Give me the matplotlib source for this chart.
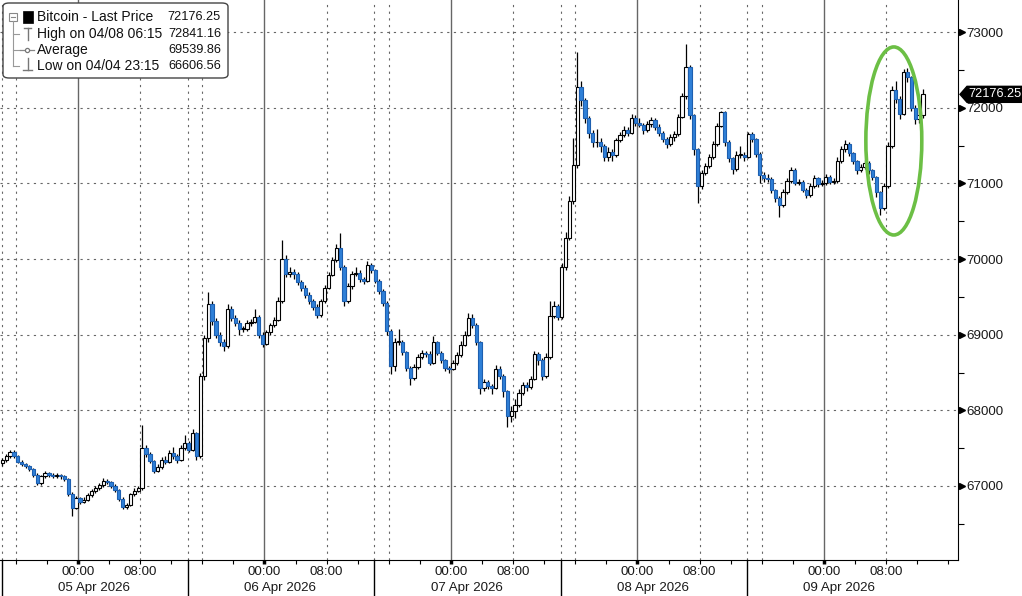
import matplotlib
matplotlib.use("Agg")
import matplotlib.pyplot as plt
from matplotlib.patches import Ellipse, FancyBboxPatch, Polygon, Rectangle
from matplotlib.lines import Line2D
import numpy as np
import pandas as pd

# 30-minute candles, Bitcoin, 04 Apr 14:00 -> 09 Apr 12:30
start_time = "2026-04-04 14:00"
first_open = 67300
closes = [
    67340, 67390, 67450, 67390, 67320, 67290, 67260, 67220, 67150, 67040,
    67130, 67170, 67150, 67130, 67140, 67130, 67090, 66900, 66710, 66840,
    66790, 66820, 66880, 66930, 66970, 67010, 67060, 67050, 67000, 66950,
    66830, 66720, 66750, 66890, 66940, 66970, 67500, 67420, 67330, 67200,
    67250, 67350, 67320, 67440, 67390, 67350, 67500, 67570, 67480, 67700,
    67390, 68450, 68950, 69400, 69180, 69000, 68900, 68850, 69340, 69220,
    69160, 69070, 69080, 69150, 69170, 69230, 69000, 68880, 69030, 69130,
    69200, 69450, 70000, 69800, 69830, 69800, 69690, 69620, 69530, 69440,
    69370, 69260, 69440, 69620, 69790, 69990, 70150, 69900, 69440, 69640,
    69800, 69820, 69730, 69710, 69920, 69850, 69710, 69580, 69420, 69050,
    68580, 68900, 68900, 68770, 68560, 68430, 68570, 68700, 68760, 68750,
    68630, 68900, 68760, 68660, 68560, 68550, 68620, 68730, 68870, 69000,
    69220, 69130, 68900, 68300, 68370, 68320, 68300, 68550, 68460, 68250,
    67930, 67990, 68070, 68230, 68330, 68310, 68420, 68740, 68660, 68450,
    68700, 69250, 69380, 69240, 69890, 70280, 70760, 71240, 72270, 72100,
    71860, 71670, 71540, 71550, 71500, 71350, 71420, 71370, 71570, 71640,
    71710, 71670, 71870, 71800, 71770, 71700, 71780, 71840, 71750, 71670,
    71580, 71520, 71610, 71650, 71880, 72150, 72540, 71900, 71450, 70970,
    71140, 71230, 71350, 71520, 71760, 71940, 71550, 71330, 71190, 71380,
    71380, 71350, 71650, 71580, 71390, 71110, 71070, 71060, 70910, 70800,
    70720, 70880, 71030, 71180, 71010, 71020, 70910, 70840, 70960, 71070,
    70990, 71010, 71090, 71020, 71030, 71300, 71450, 71520, 71400, 71290,
    71180, 71220, 71270, 71170, 71080, 70880, 70680, 70970, 71500, 72240,
    72120, 71920, 72470, 72400, 72000, 71850, 71900, 72176.25]
highs = [
    67370, 67420, 67480, 67470, 67410, 67340, 67310, 67280, 67240, 67170,
    67150, 67200, 67190, 67170, 67170, 67160, 67150, 67100, 66920, 66870,
    66860, 66850, 66910, 66960, 67000, 67040, 67100, 67090, 67070, 67020,
    66960, 66850, 66780, 66910, 66970, 67000, 67810, 67540, 67450, 67350,
    67290, 67380, 67390, 67480, 67510, 67420, 67540, 67680, 67600, 67750,
    67720, 68500, 69000, 69560, 69450, 69220, 69040, 68940, 69400, 69380,
    69260, 69190, 69120, 69190, 69210, 69340, 69260, 69030, 69060, 69160,
    69240, 69500, 70250, 70050, 69900, 69870, 69830, 69720, 69650, 69560,
    69470, 69400, 69470, 69660, 69830, 70030, 70200, 70340, 69920, 69680,
    69840, 69900, 69850, 69760, 69980, 69950, 69870, 69730, 69600, 69440,
    69070, 68950, 69080, 68930, 68790, 68590, 68610, 68740, 68800, 68790,
    68780, 68980, 68920, 68780, 68680, 68590, 68660, 68770, 68910, 69050,
    69280, 69270, 69150, 68920, 68420, 68400, 68350, 68600, 68590, 68480,
    68270, 68060, 68150, 68280, 68380, 68370, 68460, 68790, 68770, 68690,
    68760, 69450, 69440, 69410, 69950, 70360, 70830, 71600, 72740, 72350,
    72130, 71890, 71700, 71720, 71600, 71520, 71480, 71450, 71600, 71680,
    71760, 71740, 71910, 71900, 71860, 71800, 71820, 71880, 71870, 71780,
    71690, 71610, 71650, 71690, 71920, 72200, 72841.16, 72560, 71920, 71470,
    71180, 71270, 71390, 71560, 71800, 71960, 71960, 71570, 71350, 71430,
    71500, 71410, 71680, 71680, 71600, 71410, 71150, 71130, 71090, 70930,
    70830, 70920, 71070, 71220, 71200, 71060, 71040, 70940, 71000, 71110,
    71090, 71050, 71130, 71110, 71070, 71350, 71490, 71570, 71540, 71420,
    71310, 71260, 71310, 71290, 71190, 71100, 70900, 71010, 71550, 72280,
    72350, 72150, 72510, 72530, 72420, 72030, 71950, 72250]
lows = [
    67270, 67320, 67370, 67370, 67300, 67260, 67240, 67200, 67120, 67010,
    67010, 67110, 67120, 67100, 67100, 67090, 67060, 66870, 66606.56, 66690,
    66760, 66770, 66800, 66860, 66910, 66950, 66990, 67020, 66980, 66920,
    66800, 66690, 66690, 66730, 66870, 66920, 66950, 67380, 67300, 67170,
    67180, 67230, 67290, 67300, 67360, 67310, 67330, 67470, 67450, 67460,
    67350, 67370, 68400, 68900, 69130, 68950, 68850, 68780, 68830, 69180,
    69110, 69000, 69030, 69050, 69120, 69150, 68950, 68840, 68860, 69000,
    69100, 69180, 69420, 69760, 69760, 69740, 69650, 69580, 69490, 69400,
    69320, 69220, 69240, 69420, 69600, 69770, 69960, 69860, 69380, 69420,
    69610, 69780, 69700, 69670, 69690, 69810, 69680, 69540, 69380, 69000,
    68480, 68520, 68860, 68730, 68520, 68340, 68400, 68550, 68680, 68710,
    68600, 68610, 68730, 68630, 68520, 68500, 68530, 68600, 68710, 68850,
    68980, 69090, 68860, 68220, 68250, 68280, 68210, 68280, 68420, 68180,
    67780, 67850, 67900, 68040, 68200, 68260, 68280, 68400, 68600, 68400,
    68430, 68680, 69220, 69190, 69210, 69860, 70250, 70730, 71200, 72020,
    71800, 71600, 71480, 71480, 71420, 71300, 71300, 71300, 71350, 71540,
    71610, 71630, 71650, 71760, 71740, 71650, 71680, 71750, 71710, 71630,
    71540, 71470, 71490, 71560, 71630, 71860, 72120, 71850, 71380, 70740,
    70920, 71110, 71200, 71320, 71500, 71740, 71500, 71280, 71120, 71160,
    71340, 71300, 71330, 71540, 71350, 71000, 71020, 71020, 70870, 70750,
    70560, 70690, 70860, 71000, 70980, 70980, 70880, 70800, 70820, 70940,
    70950, 70960, 70980, 70990, 70990, 71010, 71270, 71420, 71360, 71250,
    71130, 71150, 71190, 71130, 71040, 70820, 70580, 70650, 70940, 71470,
    72060, 71850, 71900, 72340, 71950, 71790, 71800, 71870]

legend_rows = [("Bitcoin - Last Price", "72176.25"),
               ("High on 04/08 06:15", "72841.16"),
               ("Average", "69539.86"),
               ("Low on 04/04 23:15", "66606.56")]
day_labels = ["05 Apr 2026", "06 Apr 2026", "07 Apr 2026", "08 Apr 2026", "09 Apr 2026"]
y_ticks = [67000, 68000, 69000, 70000, 71000, 72000, 73000]
last_price = 72176.25

W, H = 1022, 596
plt.rcParams['font.family'] = ['Liberation Sans', 'DejaVu Sans']
FS_TICK = 9.6
FS_LEG = 9.2
FS_LAB = 10.0
TXT = '#1a1a1a'
BLUE = '#2f80d8'

closes = np.array(closes, dtype=float)
highs = np.array(highs, dtype=float)
lows = np.array(lows, dtype=float)
opens = np.r_[first_open, closes[:-1]]
times = pd.date_range(start_time, periods=len(closes), freq="30min")
x = ((times - pd.Timestamp("2026-04-05")) / pd.Timedelta(hours=1)).to_numpy() + 0.25

fig = plt.figure(figsize=(W / 100, H / 100), dpi=100)
ax = fig.add_axes([0, 36 / H, 958 / W, 560 / H])
ax.set_xlim(-10.04, 113.26)
ax.set_ylim(66022, 73423)

# grid
for v in y_ticks:
    ax.axhline(v, color='#666666', lw=0.8, ls=(0, (2, 4)), zorder=0)
days = [0, 24, 48, 72, 96]
for d in days:
    ax.axvline(d, color='#666666', lw=1.0, zorder=0)
dotted = [d + 8 for d in days] + [d - 8 for d in days] + [d - 9.84 for d in days]
for d in dotted:
    ax.axvline(d, color='#666666', lw=0.8, ls=(0, (2, 4)), zorder=0)

# candles
up = closes >= opens
bot = np.minimum(opens, closes)
hgt = np.maximum(np.abs(closes - opens), 12)
ax.vlines(x, lows, highs, color='black', lw=0.9, zorder=2)
ax.bar(x[up], hgt[up], bottom=bot[up], width=0.42, color='white',
       edgecolor='black', lw=0.8, zorder=3)
ax.bar(x[~up], hgt[~up], bottom=bot[~up], width=0.42, color=BLUE,
       edgecolor='#1d5fb0', lw=0.8, zorder=3)

ax.add_patch(Ellipse((105.0, 71560), width=7.2, height=2485, fill=False,
                     edgecolor='#6cbf45', lw=2.6, zorder=5))

# spines / axes
for s in ['top', 'left']:
    ax.spines[s].set_visible(False)
ax.spines['right'].set_color('black')
ax.spines['bottom'].set_color('black')
ax.yaxis.tick_right()
ax.set_yticks(y_ticks)
ax.set_yticklabels([str(v) for v in y_ticks])
ax.set_yticks(np.arange(66500, 73001, 1000), minor=True)
ax.tick_params(axis='y', which='major', length=0, pad=6, labelsize=FS_TICK, labelcolor=TXT)
ax.tick_params(axis='y', which='minor', length=4, width=0.8, color='black')
ytr = ax.get_yaxis_transform()
ax.plot(np.full(len(y_ticks), 1 + 4 / 958), y_ticks, ls='none', marker='>', ms=5,
        color='black', transform=ytr, clip_on=False)

ax.set_xticks(days)
ax.set_xticklabels([''] * len(days))
ax.set_xticks(np.arange(-8, 113, 4), minor=True)
ax.tick_params(axis='x', which='major', length=3, width=2.5, color='black')
ax.tick_params(axis='x', which='minor', length=3, width=0.8, color='black')

xtr = ax.get_xaxis_transform()
for d, lab in zip(days, day_labels):
    ax.text(d, -12 / 560, "00:00", transform=xtr, ha='center', va='center', fontsize=FS_TICK, color=TXT)
    ax.text(d + 8, -12 / 560, "08:00", transform=xtr, ha='center', va='center', fontsize=FS_TICK, color=TXT)
    ax.text(d + 2, -28 / 560, lab, transform=xtr, ha='center', va='center', fontsize=FS_TICK, color=TXT)
for d in days:
    ax.plot([d - 9.84, d - 9.84], [0, -36 / 560], color='black', lw=1.0,
            transform=xtr, clip_on=False)

# last price tag
hh = 8 * (73423 - 66022) / 560
x0, x1, x2 = 1 + 2 / 958, 1 + 9 / 958, 1 + 64 / 958
ax.add_patch(Polygon([(x0, last_price), (x1, last_price + hh), (x2, last_price + hh),
                      (x2, last_price - hh), (x1, last_price - hh)], closed=True,
                     facecolor='black', edgecolor='black', transform=ytr, clip_on=False, zorder=6))
ax.text(1 + 37 / 958, last_price, f"{last_price:.2f}", transform=ytr, ha='center', va='center',
        fontsize=FS_LEG, color='white', zorder=7, clip_on=False)


# legend box (figure pixel coordinates)
def fline(xs, ys, **kw):
    fig.add_artist(Line2D([p / W for p in xs], [1 - p / H for p in ys],
                          transform=fig.transFigure, **kw))


fig.add_artist(FancyBboxPatch((3 / W, 1 - 78 / H), 225 / W, 75 / H,
                              boxstyle="round,pad=0,rounding_size=0.006",
                              transform=fig.transFigure, facecolor='white',
                              edgecolor='#444444', lw=1.0, zorder=10))
rows_y = [17, 34, 50, 66]
for (lab, val), ry in zip(legend_rows, rows_y):
    fig.text(37 / W, 1 - ry / H, lab, ha='left', va='center', fontsize=FS_LAB, color='#111111', zorder=11)
    fig.text(221 / W, 1 - ry / H, val, ha='right', va='center', fontsize=FS_LEG, color='#111111', zorder=11)

fig.add_artist(Rectangle((9 / W, 1 - 21 / H), 8 / W, 8 / H, transform=fig.transFigure,
                         facecolor='white', edgecolor='#888888', lw=0.8, zorder=11))
fline([11, 15], [17, 17], color='#888888', lw=0.8, zorder=12)
fig.add_artist(Rectangle((23 / W, 1 - 23 / H), 10 / W, 12 / H, transform=fig.transFigure,
                         facecolor='black', edgecolor='black', lw=0.5, zorder=11))
fline([13, 13], [21, 66], color='#999999', lw=0.8, zorder=11)
for ry in rows_y[1:]:
    fline([13, 19], [ry, ry], color='#999999', lw=0.8, zorder=11)
fline([24, 31], [28, 28], color='#777777', lw=1.0, zorder=11)
fline([27.5, 27.5], [28, 40], color='#777777', lw=1.0, zorder=11)
fline([20, 34], [50, 50], color='#888888', lw=0.9, zorder=11)
fline([27], [50], color='#777777', marker='o', ms=3, mfc='white', mew=0.9, zorder=12)
fline([27.5, 27.5], [58, 70], color='#777777', lw=1.0, zorder=11)
fline([23, 32], [70, 70], color='#777777', lw=1.0, zorder=11)

fig.savefig("out.png", dpi=100, facecolor='white')
